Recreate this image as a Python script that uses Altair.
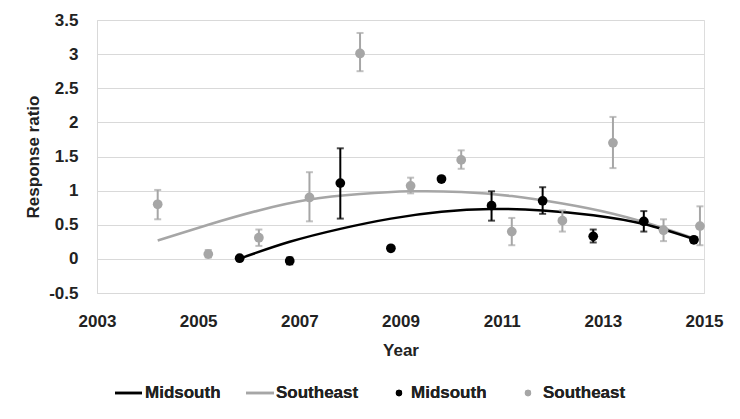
import altair as alt
import pandas as pd

# --- data ---
se_year = [2004.2, 2005.2, 2006.2, 2007.2, 2008.2, 2009.2, 2010.2, 2011.2, 2012.2, 2013.2, 2014.2, 2014.92]
se_ratio = [0.80, 0.07, 0.31, 0.90, 3.01, 1.07, 1.45, 0.40, 0.56, 1.70, 0.42, 0.48]
se_lo = [0.58, 0.02, 0.19, 0.55, 2.75, 0.96, 1.32, 0.20, 0.40, 1.33, 0.26, 0.20]
se_hi = [1.01, 0.13, 0.43, 1.27, 3.31, 1.19, 1.59, 0.60, 0.71, 2.08, 0.58, 0.77]
se_fit = [0.27, 0.50, 0.71, 0.87, 0.95, 0.99, 0.98, 0.92, 0.81, 0.66, 0.45, 0.27]

ms_year = [2005.82, 2006.81, 2007.81, 2008.81, 2009.81, 2010.8, 2011.81, 2012.81, 2013.81, 2014.8]
ms_ratio = [0.01, -0.03, 1.11, 0.155, 1.17, 0.78, 0.85, 0.33, 0.55, 0.28]
ms_lo = [None, -0.08, 0.59, None, None, 0.56, 0.66, 0.24, 0.40, 0.25]
ms_hi = [None, 0.02, 1.62, None, None, 0.99, 1.05, 0.43, 0.70, 0.31]
ms_fit = [0.005, 0.25, 0.44, 0.59, 0.69, 0.73, 0.71, 0.64, 0.51, 0.29]

x_ticks = [2003, 2005, 2007, 2009, 2011, 2013, 2015]
y_ticks = [-0.5, 0, 0.5, 1, 1.5, 2, 2.5, 3, 3.5]
legend_labels = ["Midsouth", "Southeast", "Midsouth", "Southeast"]

BLACK = "#000000"
GREY = "#a6a6a6"
FONT = "Liberation Sans"
TXT = "#222222"

se = pd.DataFrame({"year": se_year, "ratio": se_ratio, "lo": se_lo, "hi": se_hi,
                   "fit": se_fit, "series": "Southeast"})
ms = pd.DataFrame({"year": ms_year, "ratio": ms_ratio, "lo": ms_lo, "hi": ms_hi,
                   "fit": ms_fit, "series": "Midsouth"})

W, H = 607, 273

xscale = alt.Scale(domain=[2003, 2015], nice=False, zero=False)
yscale = alt.Scale(domain=[-0.5, 3.5], nice=False, zero=False)

xax = alt.Axis(values=x_ticks, labelExpr="'' + datum.value", grid=False, ticks=False,
               domainColor="#d9d9d9", domainWidth=1, labelFont=FONT, labelFontSize=17,
               labelFontWeight="bold", labelColor=TXT, labelPadding=20, labelFlush=False,
               labelOverlap=False, title="Year",
               titleFont=FONT, titleFontSize=17, titleFontWeight="bold", titleColor=TXT,
               titlePadding=13)
yax = alt.Axis(values=y_ticks, labelExpr="'' + datum.value", grid=True, gridColor="#d9d9d9",
               gridWidth=1, ticks=False, domainColor="#d9d9d9", domainWidth=1, labelFont=FONT,
               labelFontSize=17, labelFontWeight="bold", labelColor=TXT, labelPadding=19,
               labelFlush=False, labelOverlap=False,
               title="Response ratio", titleFont=FONT, titleFontSize=17, titleFontWeight="bold",
               titleColor=TXT, titlePadding=6)

X = alt.X("year:Q", scale=xscale, axis=xax)


def Yf(field):
    return alt.Y(f"{field}:Q", scale=yscale, axis=yax)


def trend(df, color):
    return alt.Chart(df).mark_line(color=color, strokeWidth=2.5, interpolate="natural").encode(
        x=X, y=Yf("fit"), order="year:Q"
    )


def errs(df, color):
    base = alt.Chart(df).transform_filter("datum.lo != null")
    bar = base.mark_rule(color=color, strokeWidth=2).encode(x=X, y=Yf("lo"), y2="hi:Q")
    cap_hi = base.mark_tick(color=color, orient="horizontal", size=7, thickness=2).encode(
        x=X, y=Yf("hi"))
    cap_lo = base.mark_tick(color=color, orient="horizontal", size=7, thickness=2).encode(
        x=X, y=Yf("lo"))
    return bar + cap_hi + cap_lo


def pts(df, color):
    return alt.Chart(df).mark_point(filled=True, color=color, size=95, opacity=1).encode(
        x=X, y=Yf("ratio"))


# --- legend (below the plot) ---
leg_df = pd.DataFrame({"label": legend_labels})
LY = 373
legend_layers = []
line_pos = [(18, 45, 48), (149, 177, 179)]
dot_pos = [(302, 314), (431, 446)]
leg_colors = [BLACK, GREY, BLACK, GREY]
for i in range(2):
    x1, x2, tx = line_pos[i]
    one = alt.Chart(leg_df).transform_filter(f"datum.label == '{legend_labels[i]}'")
    legend_layers.append(one.mark_rule(color=leg_colors[i], strokeWidth=2.5).encode(
        x=alt.value(x1), x2=alt.value(x2), y=alt.value(LY)))
    legend_layers.append(one.mark_text(align="left", baseline="middle", font=FONT, fontSize=17,
                                       fontWeight="bold", color=TXT).encode(
        x=alt.value(tx), y=alt.value(LY), text="label:N"))
for j in range(2):
    i = j + 2
    dx, tx = dot_pos[j]
    one = alt.Chart(leg_df).transform_filter(f"datum.label == '{legend_labels[i]}'")
    legend_layers.append(one.mark_point(filled=True, color=leg_colors[i], size=40, opacity=1).encode(
        x=alt.value(dx), y=alt.value(LY)))
    legend_layers.append(one.mark_text(align="left", baseline="middle", font=FONT, fontSize=17,
                                       fontWeight="bold", color=TXT).encode(
        x=alt.value(tx), y=alt.value(LY), text="label:N"))

chart = alt.layer(
    trend(se, GREY),
    trend(ms, BLACK),
    errs(se, GREY),
    pts(se, GREY),
    errs(ms, BLACK),
    pts(ms, BLACK),
    *legend_layers,
).properties(
    width=W, height=H,
    autosize=alt.AutoSizeParams(type="none"),
    padding={"left": 89, "top": 12, "right": 20, "bottom": 115},
).configure_view(stroke=None).configure(background="white")

chart.save("out.html", embed_options={"renderer": "svg", "actions": False})
